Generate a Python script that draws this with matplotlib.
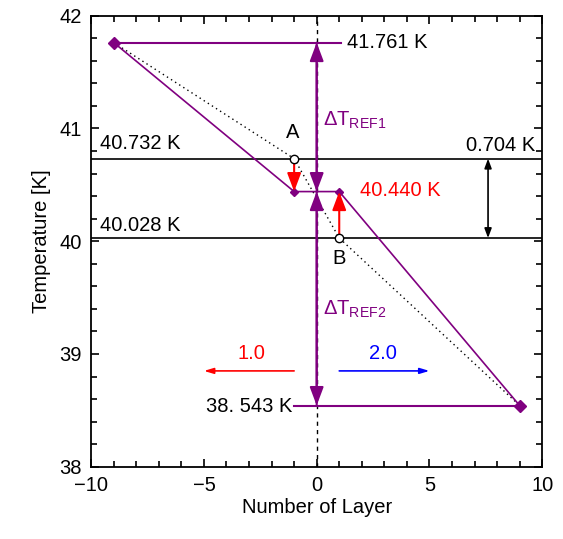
import matplotlib
matplotlib.use("Agg")
import matplotlib.pyplot as plt
from matplotlib.ticker import MultipleLocator

plt.rcParams.update({
    "font.family": ["Liberation Sans", "DejaVu Sans"],
    "font.size": 14.5,
    "mathtext.default": "regular",
    "axes.linewidth": 1.3,
})

PURPLE = "#800080"

# ── data ───────────────────────────────────────────────────────────────────────
layer_sim = [-9, -1, 1, 9]
temp_sim = [41.761, 40.440, 40.440, 38.543]

layer_ref = [-9, -1, 1, 9]
temp_ref = [41.761, 40.732, 40.028, 38.543]

t_top, t_A, t_mid, t_B, t_bot = 41.761, 40.732, 40.440, 40.028, 38.543
x_A, x_B = -1, 1
x_gap = 7.6
t_ref_top_end = 1.1
t_ref_bot_start = -1.0

fig = plt.figure(figsize=(5.63, 5.39), dpi=100)
ax = fig.add_axes([0.162, 0.134, 0.801, 0.837])

# reference lines
ax.axhline(t_A, color="black", lw=1.2, zorder=1)
ax.axhline(t_B, color="black", lw=1.2, zorder=1)
ax.axvline(0, color="black", lw=1.0, ls=(0, (3, 3)), zorder=1)

# dotted reference profile
ax.plot(layer_ref, temp_ref, color="black", lw=1.0, ls=(0, (1, 2.5)), zorder=2)

# purple profile
ax.plot(layer_sim, temp_sim, color=PURPLE, lw=1.2, zorder=3)
ax.plot([layer_sim[0], layer_sim[-1]], [temp_sim[0], temp_sim[-1]], ls="none",
        marker="D", ms=6, color=PURPLE, zorder=4)
ax.plot(layer_sim[1:3], temp_sim[1:3], ls="none", marker="D", ms=4,
        color=PURPLE, zorder=4)

# purple horizontal guides
ax.plot([layer_sim[0], t_ref_top_end], [t_top, t_top], color=PURPLE, lw=1.5, zorder=3)
ax.plot([t_ref_bot_start, layer_sim[-1]], [t_bot, t_bot], color=PURPLE, lw=1.5, zorder=3)

# ΔT arrows along x = 0
arr_p = dict(arrowstyle="-|>,head_width=0.3,head_length=0.8", color=PURPLE,
             lw=1.5, shrinkA=0, shrinkB=0, mutation_scale=14)
for y0, y1 in [(t_mid, t_top), (t_top, t_mid), (t_mid, t_bot), (t_bot, t_mid)]:
    ax.annotate("", xy=(0, y1), xytext=(0, y0), arrowprops=arr_p, zorder=5)

# red arrows
arr_r = dict(arrowstyle="-|>,head_width=0.3,head_length=0.8", color="red",
             lw=1.5, shrinkA=0, shrinkB=0, mutation_scale=14)
ax.annotate("", xy=(x_A, t_mid), xytext=(x_A, t_A), arrowprops=arr_r, zorder=5)
ax.annotate("", xy=(x_B, t_mid), xytext=(x_B, t_B), arrowprops=arr_r, zorder=5)

# A, B markers
ax.plot([x_A, x_B], [t_A, t_B], ls="none", marker="o", ms=6, mfc="white",
        mec="black", mew=1.0, zorder=6)

# 0.704 K gap arrow
ax.annotate("", xy=(x_gap, t_B), xytext=(x_gap, t_A),
            arrowprops=dict(arrowstyle="<|-|>,head_width=0.15,head_length=0.4",
                            color="black", lw=1.2, shrinkA=0, shrinkB=0,
                            mutation_scale=14))

# speed arrows
ax.annotate("", xy=(-5, 38.85), xytext=(-1, 38.85),
            arrowprops=dict(arrowstyle="-|>,head_width=0.12,head_length=0.4",
                            color="red", lw=1.2, shrinkA=0, shrinkB=0,
                            mutation_scale=14))
ax.annotate("", xy=(5, 38.85), xytext=(1, 38.85),
            arrowprops=dict(arrowstyle="-|>,head_width=0.12,head_length=0.4",
                            color="blue", lw=1.2, shrinkA=0, shrinkB=0,
                            mutation_scale=14))

# labels
ax.text(1.35, t_top, "41.761 K", va="center", ha="left")
ax.text(-9.6, 40.87, "40.732 K", va="center", ha="left")
ax.text(9.7, 40.85, "0.704 K", va="center", ha="right")
ax.text(1.9, 40.45, "40.440 K", va="center", ha="left", color="red")
ax.text(-9.6, 40.14, "40.028 K", va="center", ha="left")
ax.text(-1.1, 38.53, "38. 543 K", va="center", ha="right")
ax.text(0.3, 41.07, r"$\Delta$T$_{REF1}$", va="center", ha="left", color=PURPLE)
ax.text(0.3, 39.40, r"$\Delta$T$_{REF2}$", va="center", ha="left", color=PURPLE)
ax.text(-1.05, 40.96, "A", va="center", ha="center")
ax.text(1.0, 39.85, "B", va="center", ha="center")
ax.text(-2.9, 39.0, "1.0", va="center", ha="center", color="red")
ax.text(2.95, 39.0, "2.0", va="center", ha="center", color="blue")

ax.set_xlim(-10, 10)
ax.set_ylim(38, 42)
ax.set_xticks([-10, -5, 0, 5, 10])
ax.set_yticks([38, 39, 40, 41, 42])
ax.set_xticklabels(["\u221210", "\u22125", "0", "5", "10"])
ax.xaxis.set_minor_locator(MultipleLocator(1))
ax.yaxis.set_minor_locator(MultipleLocator(0.2))
ax.tick_params(which="both", direction="in", top=True, right=True, width=1.2,
               pad=7)
ax.tick_params(which="major", length=6)
ax.tick_params(which="minor", length=4)
ax.set_xlabel("Number of Layer", labelpad=2)
ax.set_ylabel("Temperature [K]", labelpad=6)

fig.savefig("out.png", dpi=100)
